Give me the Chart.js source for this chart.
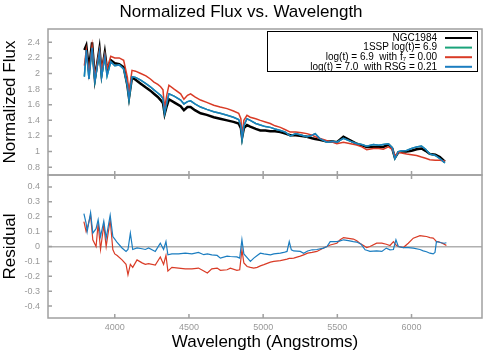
<!DOCTYPE html>
<html>
<head>
<meta charset="utf-8">
<script src="https://cdn.jsdelivr.net/npm/chart.js@4"></script>
<style>
  body { margin: 0; background: #fff; width: 500px; height: 350px; overflow: hidden; }
  canvas { position: absolute; left: 0; }
</style>
</head>
<body>
<canvas id="fluxChart" width="500" height="176" style="top:0"></canvas>
<canvas id="residChart" width="500" height="176" style="top:174px"></canvas>
<script>
// wavelengths (Angstroms) for the flux panel
let fluxWave = [3795, 3808, 3826, 3847, 3866, 3897, 3911, 3933, 3948, 3973,
  4000, 4030, 4060, 4085, 4096, 4116, 4140, 4175, 4210, 4240,
  4264, 4290, 4309, 4325, 4336, 4350, 4365, 4400, 4444, 4466,
  4490, 4511, 4540, 4578, 4620, 4667, 4710, 4757, 4800, 4835,
  4850, 4858, 4870, 4891, 4913, 4950, 4981, 5015, 5048, 5080,
  5116, 5150, 5183, 5220, 5260, 5295, 5330, 5351, 5380, 5430,
  5470, 5497, 5541, 5590, 5631, 5665, 5698, 5743, 5780, 5810,
  5844, 5870, 5888, 5911, 5940, 5967, 6000, 6034, 6067, 6095,
  6123, 6160, 6191, 6225];

let ngc1984 = [2.30, 2.36, 2.05, 2.40, 1.93, 2.32, 2.00, 2.27, 2.05, 2.17,
  2.13, 2.12, 2.08, 1.85, 1.69, 1.95, 1.92, 1.87, 1.82, 1.78,
  1.74, 1.70, 1.66, 1.62, 1.48, 1.58, 1.67, 1.63, 1.58, 1.53,
  1.57, 1.57, 1.53, 1.49, 1.47, 1.44, 1.42, 1.40, 1.38, 1.36,
  1.30, 1.18, 1.30, 1.34, 1.32, 1.29, 1.27, 1.27, 1.26, 1.26,
  1.25, 1.23, 1.21, 1.21, 1.20, 1.19, 1.17, 1.16, 1.15, 1.13,
  1.13, 1.12, 1.19, 1.14, 1.10, 1.08, 1.06, 1.06, 1.06, 1.06,
  1.09, 1.04, 0.92, 0.99, 1.00, 1.00, 1.01, 1.03, 1.04, 1.01,
  0.97, 0.96, 0.93, 0.87];

let rsgModel = [1.96, 2.30, 1.93, 2.33, 1.90, 2.28, 1.95, 2.22, 1.97, 2.15,
  2.10, 2.11, 2.06, 1.85, 1.67, 1.96, 1.95, 1.915, 1.87, 1.83,
  1.79, 1.75, 1.72, 1.68, 1.49, 1.62, 1.74, 1.71, 1.66, 1.61,
  1.64, 1.65, 1.61, 1.57, 1.54, 1.51, 1.49, 1.465, 1.44, 1.41,
  1.33, 1.16, 1.33, 1.42, 1.40, 1.36, 1.34, 1.32, 1.31, 1.29,
  1.27, 1.25, 1.20, 1.23, 1.21, 1.19, 1.21, 1.23, 1.17, 1.12,
  1.13, 1.12, 1.17, 1.13, 1.10, 1.09, 1.07, 1.09, 1.08, 1.09,
  1.10, 1.05, 0.91, 1.00, 1.01, 1.015, 1.04, 1.06, 1.07, 1.03,
  0.97, 0.95, 0.91, 0.855];

// the 1SSP curve is hidden under the RSG curve in the picture
let sspModel = rsgModel.slice();

let f7Model = [2.10, 2.30, 2.00, 2.35, 1.95, 2.30, 2.05, 2.25, 2.06, 2.22,
  2.20, 2.20, 2.17, 1.95, 1.75, 2.04, 2.03, 2.00, 1.97, 1.93,
  1.89, 1.86, 1.83, 1.79, 1.55, 1.72, 1.85, 1.80, 1.74, 1.67,
  1.72, 1.74, 1.70, 1.66, 1.63, 1.594, 1.57, 1.55, 1.52, 1.49,
  1.42, 1.20, 1.40, 1.465, 1.44, 1.42, 1.40, 1.38, 1.36, 1.33,
  1.31, 1.28, 1.25, 1.25, 1.24, 1.23, 1.21, 1.19, 1.17, 1.14,
  1.12, 1.10, 1.12, 1.10, 1.085, 1.06, 1.025, 1.04, 1.04, 1.03,
  1.06, 1.03, 0.95, 0.99, 0.98, 0.97, 0.96, 0.95, 0.93, 0.915,
  0.895, 0.89, 0.89, 0.88];

// residual panel
let residWave = [3792, 3807, 3814, 3837, 3852, 3874, 3888, 3904, 3926, 3942,
  3969, 3987, 4000, 4016, 4049, 4076, 4089, 4105, 4121, 4150,
  4184, 4206, 4228, 4273, 4307, 4329, 4345, 4358, 4385, 4430,
  4475, 4520, 4564, 4600, 4624, 4654, 4690, 4712, 4757, 4779,
  4823, 4842, 4857, 4870, 4892, 4914, 4937, 4960, 4981, 5005,
  5049, 5072, 5116, 5139, 5161, 5176, 5190, 5206, 5250, 5273,
  5300, 5330, 5362, 5407, 5430, 5452, 5497, 5519, 5542, 5575,
  5608, 5631, 5660, 5687, 5698, 5720, 5765, 5800, 5830, 5855,
  5878, 5895, 5911, 5945, 5978, 6012, 6057, 6079, 6101, 6124,
  6146, 6158, 6168, 6180, 6200, 6220, 6235];

let residRsg = [0.22, 0.155, 0.10, 0.227, 0.09, 0.12, 0.18, 0.067, 0.17, 0.056,
  0.21, 0.067, 0.05, 0.027, -0.01, -0.033, -0.02, 0.09, -0.02, -0.01,
  -0.015, -0.02, -0.01, -0.033, 0.022, -0.02, 0.033, -0.056, -0.05, -0.05,
  -0.045, -0.05, -0.04, -0.055, -0.05, -0.056, -0.06, -0.078, -0.065, -0.067,
  -0.07, -0.078, 0.045, -0.05, -0.075, -0.10, -0.078, -0.06, -0.045, -0.05,
  -0.056, -0.05, -0.045, -0.04, -0.033, 0.033, -0.022, -0.03, -0.033, -0.045,
  -0.03, -0.022, -0.02, -0.011, 0.0, 0.033, 0.033, 0.038, 0.045, 0.04,
  0.033, 0.03, 0.016, -0.022, -0.025, -0.033, -0.029, -0.033, -0.011, -0.022,
  -0.02, 0.045, 0.0, -0.007, -0.008, -0.011, -0.02, -0.029, -0.035, -0.045,
  -0.05, -0.04, 0.033, 0.03, 0.025, 0.022, 0.025];

let residF7 = [0.167, 0.10, 0.12, 0.21, 0.045, 0.0, 0.155, -0.02, 0.145, 0.0,
  0.18, -0.02, -0.05, -0.06, -0.09, -0.12, -0.19, -0.12, -0.14, -0.09,
  -0.11, -0.12, -0.115, -0.125, -0.07, -0.12, -0.06, -0.165, -0.14, -0.145,
  -0.15, -0.15, -0.145, -0.165, -0.178, -0.15, -0.145, -0.16, -0.156, -0.145,
  -0.16, -0.156, -0.022, -0.11, -0.134, -0.14, -0.145, -0.14, -0.13, -0.122,
  -0.105, -0.10, -0.095, -0.09, -0.085, -0.08, -0.08, -0.078, -0.065, -0.056,
  -0.045, -0.04, -0.033, -0.01, 0.0, 0.01, 0.022, 0.045, 0.06, 0.055,
  0.05, 0.038, 0.016, 0.0, -0.007, 0.0, 0.022, 0.022, 0.015, 0.007,
  0.033, 0.01, 0.0, -0.007, 0.022, 0.056, 0.073, 0.07, 0.067, 0.06,
  0.056, 0.045, 0.033, 0.033, 0.025, 0.016, 0.007];

let waveTicks = [4000, 4500, 5000, 5500, 6000];
let fluxTicks = [0.8, 1, 1.2, 1.4, 1.6, 1.8, 2, 2.2, 2.4];
let residTicks = [-0.4, -0.3, -0.2, -0.1, 0, 0.1, 0.2, 0.3, 0.4];

let grey = '#a0a0a0';
let red = '#d93b26';
let blue = '#1b7dc0';
let green = '#1aa37a';
let family = '"Liberation Sans", Arial, sans-serif';
let tickFont = {family: family, size: 9};
let labelFont = {family: family, size: 17};

function points(xs, ys) {
  return xs.map((x, i) => ({x: x, y: ys[i]}));
}

// fixed axis size, and no extra room for overhanging tick labels
function fixSize(w, h) {
  return function (s) {
    if (w !== null) s.width = w;
    if (h !== null) s.height = h;
    s.paddingTop = 0; s.paddingBottom = 0;
    s.paddingLeft = 0; s.paddingRight = 0;
  };
}

// grey box round the plot area with small inward ticks
function frame(edges) {
  return {
    id: 'frame',
    afterDatasetsDraw(chart) {
      let ctx = chart.ctx;
      let a = chart.chartArea;
      let sx = chart.scales.x, sy = chart.scales.y;
      ctx.save();
      ctx.strokeStyle = grey;
      ctx.lineWidth = 1.5;
      ctx.strokeRect(a.left, a.top, a.right - a.left, a.bottom - a.top);
      ctx.beginPath();
      waveTicks.forEach(w => {
        let x = sx.getPixelForValue(w);
        if (edges.includes('bottom')) { ctx.moveTo(x, a.bottom); ctx.lineTo(x, a.bottom - 4); }
        if (edges.includes('top')) { ctx.moveTo(x, a.top); ctx.lineTo(x, a.top + 4); }
      });
      sy.ticks.forEach(t => {
        let y = sy.getPixelForValue(t.value);
        ctx.moveTo(a.left, y); ctx.lineTo(a.left + 4, y);
      });
      ctx.stroke();
      ctx.restore();
    }
  };
}

// gnuplot style key: text right aligned, line sample on the right
let boxLegend = {
  id: 'boxLegend',
  afterDraw(chart) {
    let ctx = chart.ctx;
    ctx.save();
    ctx.fillStyle = '#fff';
    ctx.fillRect(267.5, 31.5, 210, 40);
    ctx.strokeStyle = '#000';
    ctx.lineWidth = 1;
    ctx.strokeRect(267.5, 31.5, 210, 40);
    ctx.font = '10px ' + family;
    ctx.textAlign = 'right';
    ctx.textBaseline = 'middle';
    chart.data.datasets.forEach((ds, i) => {
      let y = 38 + i * 9.6;
      ctx.fillStyle = '#000';
      ctx.fillText(ds.label, 437, y);
      ctx.strokeStyle = ds.borderColor;
      ctx.lineWidth = 2;
      ctx.beginPath();
      ctx.moveTo(445, y);
      ctx.lineTo(472, y);
      ctx.stroke();
    });
    ctx.restore();
  }
};

new Chart(document.getElementById('fluxChart').getContext('2d'), {
  type: 'line',
  data: {
    datasets: [
      {label: 'NGC1984', data: points(fluxWave, ngc1984), borderColor: '#000', borderWidth: 2.5, order: 4},
      {label: '1SSP log(t)= 6.9', data: points(fluxWave, sspModel), borderColor: green, borderWidth: 1.5, order: 3},
      {label: 'log(t) = 6.9  with f\u2087 = 0.00', data: points(fluxWave, f7Model), borderColor: red, borderWidth: 1.5, order: 2},
      {label: 'log(t) = 7.0  with RSG = 0.21', data: points(fluxWave, rsgModel), borderColor: blue, borderWidth: 1.5, order: 1},
    ]
  },
  options: {
    responsive: false,
    animation: false,
    elements: {point: {radius: 0}, line: {tension: 0}},
    layout: {autoPadding: false, padding: {top: 0, right: 18, bottom: 1, left: 0}},
    plugins: {
      legend: {display: false},
      tooltip: {enabled: false},
      title: {
        display: true,
        text: 'Normalized Flux vs. Wavelength',
        color: '#000',
        font: {family: family, size: 17, weight: 'normal'},
        padding: {top: 2, bottom: 6.6}
      }
    },
    scales: {
      x: {
        type: 'linear', min: 3550, max: 6475,
        ticks: {display: false},
        grid: {display: false, drawTicks: false},
        border: {display: false},
        afterFit: fixSize(null, 0)
      },
      y: {
        min: 0.7, max: 2.57,
        afterBuildTicks(s) { s.ticks = fluxTicks.map(v => ({value: v})); },
        ticks: {color: '#999', font: tickFont, padding: 8, callback: v => String(v)},
        grid: {display: false, drawTicks: false},
        border: {display: false},
        title: {display: true, text: 'Normalized Flux', color: '#000', font: labelFont, padding: 0},
        afterFit: fixSize(48, null)
      }
    }
  },
  plugins: [frame(['bottom']), boxLegend]
});

new Chart(document.getElementById('residChart').getContext('2d'), {
  type: 'line',
  data: {
    datasets: [
      {label: 'log(t) = 6.9  with f\u2087 = 0.00', data: points(residWave, residF7), borderColor: red, borderWidth: 1.2, order: 2},
      {label: 'log(t) = 7.0  with RSG = 0.21', data: points(residWave, residRsg), borderColor: blue, borderWidth: 1.2, order: 1},
    ]
  },
  options: {
    responsive: false,
    animation: false,
    elements: {point: {radius: 0}, line: {tension: 0}},
    layout: {autoPadding: false, padding: {top: 1, right: 18, bottom: 0, left: 0}},
    plugins: {legend: {display: false}, tooltip: {enabled: false}},
    scales: {
      x: {
        type: 'linear', min: 3550, max: 6475,
        afterBuildTicks(s) { s.ticks = waveTicks.map(v => ({value: v})); },
        ticks: {color: '#999', font: tickFont, padding: 4, maxRotation: 0, callback: v => String(v)},
        grid: {display: false, drawTicks: false},
        border: {display: false},
        title: {display: true, text: 'Wavelength (Angstroms)', color: '#000', font: labelFont, padding: {top: 0, bottom: -3}},
        afterFit: fixSize(null, 32)
      },
      y: {
        min: -0.48, max: 0.48,
        afterBuildTicks(s) { s.ticks = residTicks.map(v => ({value: v})); },
        ticks: {color: '#999', font: tickFont, padding: 8, callback: v => String(v)},
        grid: {
          drawTicks: false,
          lineWidth: 1.5,
          color: c => (c.tick && c.tick.value === 0) ? '#b0b0b0' : 'rgba(0,0,0,0)'
        },
        border: {display: false},
        title: {display: true, text: 'Residual', color: '#000', font: labelFont, padding: 0},
        afterFit: fixSize(48, null)
      }
    }
  },
  plugins: [frame(['bottom', 'top'])]
});
</script>
</body>
</html>
